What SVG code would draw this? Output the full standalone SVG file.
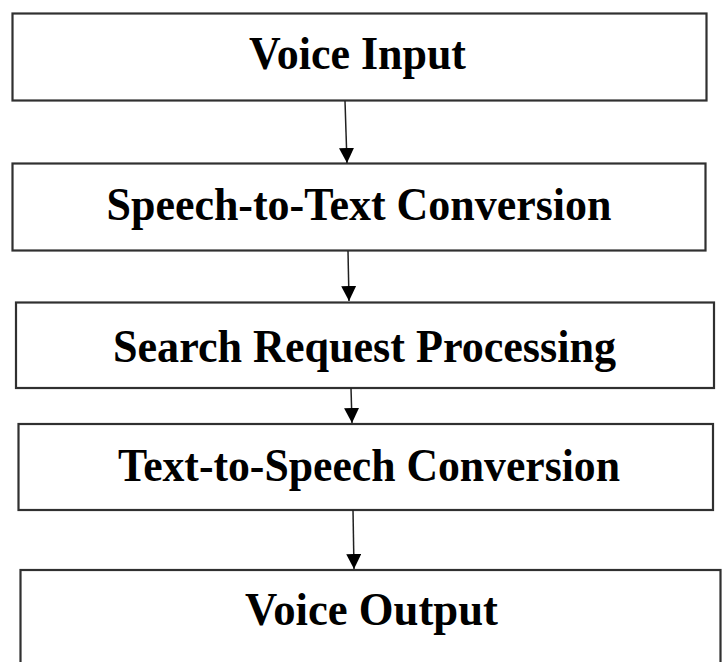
<svg xmlns="http://www.w3.org/2000/svg" width="722" height="662" viewBox="0 0 722 662">
<style>
.box{fill:#fff;stroke:#303030;stroke-width:2.2}
.lbl{font-family:"Liberation Serif","Times New Roman",serif;font-weight:bold;font-size:46px;fill:#000;text-anchor:middle}
.edge{stroke:#202020;stroke-width:1.5;fill:none}
</style>
<defs>
<marker id="ah" markerWidth="15" markerHeight="15" refX="15" refY="7.5" orient="auto" markerUnits="userSpaceOnUse">
<path d="M0,0 L15,7.5 L0,15 Z" fill="#000"/>
</marker>
</defs>
<rect width="722" height="662" fill="#fff"/>
<g id="n1"><rect class="box" x="12.5" y="13.5" width="694" height="87"/><text class="lbl" x="357.5" y="69" textLength="217" lengthAdjust="spacingAndGlyphs">Voice Input</text></g>
<g id="n2"><rect class="box" x="12.5" y="163.5" width="693" height="87"/><text class="lbl" x="359" y="220" textLength="505" lengthAdjust="spacingAndGlyphs">Speech-to-Text Conversion</text></g>
<g id="n3"><rect class="box" x="16" y="302.5" width="698" height="85.5"/><text class="lbl" x="364.5" y="362" textLength="503" lengthAdjust="spacingAndGlyphs">Search Request Processing</text></g>
<g id="n4"><rect class="box" x="18.5" y="424" width="694.5" height="86"/><text class="lbl" x="369" y="481" textLength="502" lengthAdjust="spacingAndGlyphs">Text-to-Speech Conversion</text></g>
<g id="n5"><rect class="box" x="20.5" y="570" width="700" height="110"/><text class="lbl" x="371.5" y="625" textLength="253" lengthAdjust="spacingAndGlyphs">Voice Output</text></g>
<g id="connectors">
<line class="edge" x1="345" y1="101" x2="347" y2="163" marker-end="url(#ah)"/>
<line class="edge" x1="348" y1="251" x2="349" y2="301" marker-end="url(#ah)"/>
<line class="edge" x1="351" y1="388" x2="352" y2="423" marker-end="url(#ah)"/>
<line class="edge" x1="353" y1="510" x2="354" y2="569" marker-end="url(#ah)"/>
</g>
</svg>
